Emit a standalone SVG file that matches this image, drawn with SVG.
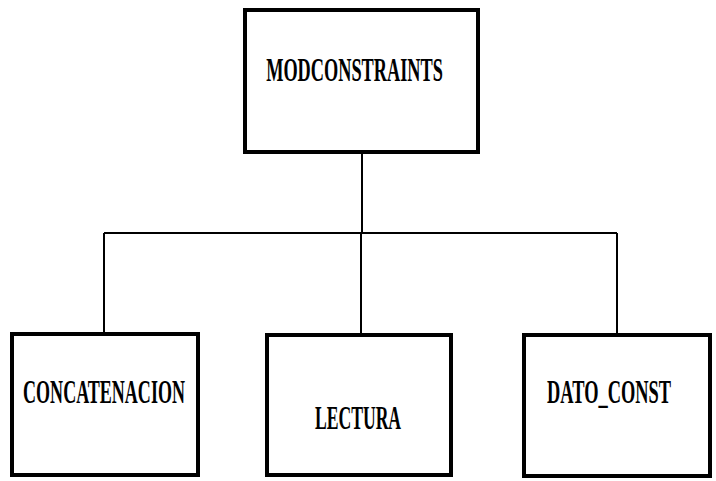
<svg xmlns="http://www.w3.org/2000/svg" width="716" height="481" viewBox="0 0 716 481">
  <style>
    .box { fill: #fff; stroke: #000; stroke-width: 4; }
    .lbl { font-family: "Liberation Serif", "DejaVu Serif", serif; font-weight: bold; font-size: 33px; fill: #000; text-anchor: middle; }
    .wire { fill: none; stroke: #000; stroke-width: 2; }
  </style>
  <rect width="716" height="481" fill="#fff"/>
  <g id="connectors">
    <path class="wire" d="M362 154 V233 M104 233 H617 M104 233 V333 M361 233 V334 M617 233 V334"/>
  </g>
  <!-- labels are drawn in a horizontally condensed frame -->
  <g id="modconstraints">
    <rect class="box" x="245" y="10" width="233" height="142"/>
    <text class="lbl" transform="translate(354.5 81) scale(0.62 1)" textLength="285" lengthAdjust="spacingAndGlyphs">MODCONSTRAINTS</text>
  </g>
  <g id="concatenacion">
    <rect class="box" x="12" y="334" width="186" height="141"/>
    <text class="lbl" transform="translate(104 403) scale(0.62 1)" textLength="261" lengthAdjust="spacingAndGlyphs">CONCATENACION</text>
  </g>
  <g id="lectura">
    <rect class="box" x="267" y="335" width="184" height="140"/>
    <text class="lbl" transform="translate(358 429) scale(0.62 1)" textLength="139" lengthAdjust="spacingAndGlyphs">LECTURA</text>
  </g>
  <g id="dato_const">
    <rect class="box" x="524" y="335" width="186" height="141"/>
    <text class="lbl" transform="translate(609 403) scale(0.62 1)" textLength="200" lengthAdjust="spacingAndGlyphs">DATO_CONST</text>
  </g>
</svg>
